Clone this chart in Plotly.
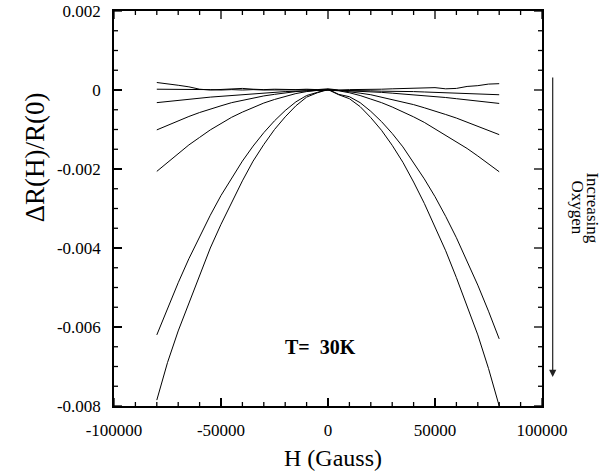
import plotly.graph_objects as go

# Magnetic field (Gauss)
H = [-80000, -75000, -70000, -65000, -60000, -55000, -50000, -45000, -40000,
     -35000, -30000, -25000, -20000, -15000, -10000, -5000, 0,
     5000, 10000, 15000, 20000, 25000, 30000, 35000, 40000,
     45000, 50000, 55000, 60000, 65000, 70000, 75000, 80000]

# Magnetoresistance dR(H)/R(0), seven oxygen contents (top -> bottom)
s1 = [0.00019, 0.00016, 0.00012, 0.00008, 0.00002, 0.00000, 0.00001, 0.00002, 0.00004,
      0.00002, 0.00001, 0.00002, 0.00001, 0.00001, 0.00002, 0.00001, 0.00003,
      0.00000, 0.00001, 0.00001, 0.00002, 0.00002, 0.00003, 0.00004, 0.00004,
      0.00006, 0.00006, 0.00003, 0.00004, 0.00009, 0.00011, 0.00015, 0.00016]
s2 = [0.00002, 0.00002, 0.00001, 0.00002, 0.00001, 0.00001, 0.00000, 0.00001, 0.00000,
      0.00001, 0.00000, 0.00000, 0.00001, 0.00000, 0.00000, 0.00000, 0.00001,
      -0.00001, -0.00001, -0.00002, -0.00002, -0.00003, -0.00003, -0.00004, -0.00004,
      -0.00005, -0.00006, -0.00006, -0.00007, -0.00008, -0.00009, -0.00011, -0.00012]
s3 = [-0.00032, -0.00029, -0.00026, -0.00023, -0.00021, -0.00018, -0.00016, -0.00014, -0.00011,
      -0.00009, -0.00007, -0.00006, -0.00004, -0.00003, -0.00002, -0.00001, 0.00000,
      -0.00001, -0.00002, -0.00003, -0.00004, -0.00006, -0.00008, -0.00010, -0.00012,
      -0.00014, -0.00017, -0.00019, -0.00022, -0.00025, -0.00028, -0.00031, -0.00034]
s4 = [-0.00101, -0.00089, -0.00078, -0.00067, -0.00057, -0.00048, -0.00040, -0.00032, -0.00026,
      -0.00020, -0.00015, -0.00011, -0.00007, -0.00004, -0.00002, -0.00001, 0.00000,
      -0.00001, -0.00004, -0.00008, -0.00012, -0.00018, -0.00024, -0.00030, -0.00037,
      -0.00045, -0.00053, -0.00062, -0.00071, -0.00081, -0.00091, -0.00102, -0.00113]
s5 = [-0.00206, -0.00183, -0.00160, -0.00139, -0.00120, -0.00101, -0.00085, -0.00069, -0.00056,
      -0.00044, -0.00033, -0.00024, -0.00016, -0.00009, -0.00004, -0.00001, 0.00000,
      -0.00002, -0.00007, -0.00014, -0.00023, -0.00032, -0.00043, -0.00055, -0.00068,
      -0.00082, -0.00098, -0.00114, -0.00131, -0.00148, -0.00167, -0.00187, -0.00207]
s6 = [-0.00620, -0.00552, -0.00488, -0.00427, -0.00370, -0.00317, -0.00267, -0.00222, -0.00180,
      -0.00142, -0.00108, -0.00078, -0.00052, -0.00030, -0.00014, -0.00006, 0.00002,
      -0.00011, -0.00017, -0.00032, -0.00054, -0.00080, -0.00110, -0.00144, -0.00183,
      -0.00225, -0.00270, -0.00320, -0.00374, -0.00432, -0.00494, -0.00560, -0.00630]
s7 = [-0.00785, -0.00690, -0.00610, -0.00540, -0.00470, -0.00400, -0.00340, -0.00283, -0.00230,
      -0.00180, -0.00138, -0.00100, -0.00068, -0.00040, -0.00018, -0.00007, 0.00001,
      -0.00012, -0.00022, -0.00042, -0.00070, -0.00102, -0.00140, -0.00183, -0.00233,
      -0.00287, -0.00345, -0.00407, -0.00475, -0.00547, -0.00620, -0.00705, -0.00800]

series = [s1, s2, s3, s4, s5, s6, s7]

x_tickvals = [-100000, -50000, 0, 50000, 100000]
x_ticktext = ["-100000", "-50000", "0", "50000", "100000"]
y_tickvals = [0.002, 0, -0.002, -0.004, -0.006, -0.008]
y_ticktext = ["0.002", "0", "-0.002", "-0.004", "-0.006", "-0.008"]
x_minor_step = 10000
y_minor_step = 0.0005

FONT = "Liberation Serif"

fig = go.Figure()
for s in series:
    fig.add_trace(go.Scatter(x=H, y=s, mode="lines",
                             line=dict(color="black", width=1),
                             showlegend=False, hoverinfo="skip"))

axis_common = dict(
    showgrid=False, zeroline=False, showline=True, linecolor="black", linewidth=1.5,
    mirror=True, ticks="inside", ticklen=8, tickwidth=1.5, tickcolor="black",
    tickfont=dict(family=FONT, size=17, color="black"),
)

fig.update_xaxes(range=[-100000, 100000], tickmode="array", tickvals=x_tickvals,
                 ticktext=x_ticktext, ticklabelstandoff=8, **axis_common)
fig.update_yaxes(range=[-0.008, 0.002], tickmode="array", tickvals=y_tickvals,
                 ticktext=y_ticktext, ticklabelstandoff=8, **axis_common)

# Inside tick marks on all four sides (major + minor), anchored to the axes
tick_style = dict(color="black", width=1.3)
x_all = [x_tickvals[0] + i * x_minor_step
         for i in range(int(round((x_tickvals[-1] - x_tickvals[0]) / x_minor_step)) + 1)]
y_all = [y_tickvals[-1] + i * y_minor_step
         for i in range(int(round((y_tickvals[0] - y_tickvals[-1]) / y_minor_step)) + 1)]
shapes = []
for xv in x_all:
    L = 8 if xv in x_tickvals else 4
    for anchor, sign in ((0, 1), (1, -1)):
        shapes.append(dict(type="line", xref="x", yref="paper", ysizemode="pixel",
                           yanchor=anchor, x0=xv, x1=xv, y0=0, y1=sign * L,
                           line=tick_style))
for yv in y_all:
    major = any(abs(yv - t) < 1e-9 for t in y_tickvals)
    L = 8 if major else 4
    for anchor, sign in ((0, 1), (1, -1)):
        shapes.append(dict(type="line", xref="paper", yref="y", xsizemode="pixel",
                           xanchor=anchor, y0=yv, y1=yv, x0=0, x1=sign * L,
                           line=tick_style))

annotations = [
    dict(text="H (Gauss)", xref="paper", yref="paper", x=0.512, y=-0.132,
         showarrow=False, xanchor="center", yanchor="middle",
         font=dict(family=FONT, size=24, color="black")),
    dict(text="ΔR(H)/R(0)", xref="paper", yref="paper", x=-0.185, y=0.629,
         showarrow=False, xanchor="center", yanchor="middle", textangle=-90,
         font=dict(family=FONT, size=27, color="black")),
    dict(text="<b>T=  30K</b>", xref="x", yref="y", x=-3500, y=-0.0065,
         showarrow=False, xanchor="center", yanchor="middle",
         font=dict(family=FONT, size=20, color="black")),
    dict(text="Increasing", xref="paper", yref="paper", x=1.117, y=0.5025,
         showarrow=False, xanchor="center", yanchor="middle", textangle=90,
         font=dict(family=FONT, size=17, color="black")),
    dict(text="Oxygen", xref="paper", yref="paper", x=1.082, y=0.5025,
         showarrow=False, xanchor="center", yanchor="middle", textangle=90,
         font=dict(family=FONT, size=17, color="black")),
    dict(text="", xref="paper", yref="paper", x=1.025, y=0.0736,
         showarrow=True, ax=0, ay=-301, axref="pixel", ayref="pixel",
         arrowhead=2, arrowsize=1.2, arrowwidth=1.2, arrowcolor="#222222"),
]

fig.update_layout(
    width=608, height=471,
    margin=dict(l=114, r=66, t=11, b=65, autoexpand=False),
    paper_bgcolor="white", plot_bgcolor="white",
    annotations=annotations, shapes=shapes,
    showlegend=False,
)

fig.write_html("out.html")
